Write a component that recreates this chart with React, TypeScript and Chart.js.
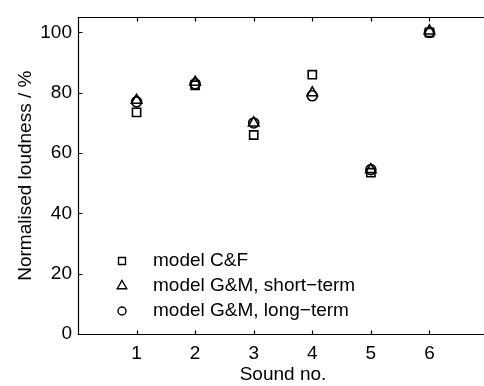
import React, { useEffect, useRef } from "react";
import { Chart, registerables } from "chart.js";

Chart.register(...registerables);

const sounds = [1, 2, 3, 4, 5, 6];
const modelCF = [73.5, 82.5, 66, 86, 53.5, 100];
const modelGMShort = [77.5, 83.5, 70, 80, 54.5, 100.5];
const modelGMLong = [77, 83, 70, 79, 54.5, 100];
const xTickValues = [1, 2, 3, 4, 5, 6, 7];
const yTickValues = [0, 20, 40, 60, 80, 100];
const seriesLabels = ["model C&F", "model G&M, short\u2212term", "model G&M, long\u2212term"];

const FONT = "'Liberation Sans', Arial, Helvetica, sans-serif";

const axesPlugin = {
  id: "axesBox",
  afterDraw(chart: any) {
    const { ctx, chartArea } = chart;
    const { left, right, top, bottom } = chartArea;
    const xs = chart.scales.x;
    const ys = chart.scales.y;
    ctx.save();
    ctx.strokeStyle = "#000";
    ctx.lineWidth = 1.2;
    const L = Math.round(left) + 0.5;
    const B = Math.round(bottom) + 0.5;
    const T = Math.round(top) + 0.5;
    const R = Math.round(right) + 0.5;
    ctx.beginPath();
    ctx.moveTo(R + 10, T);
    ctx.lineTo(L, T);
    ctx.lineTo(L, B);
    ctx.lineTo(R + 10, B);
    ctx.stroke();
    const tl = 4;
    ctx.beginPath();
    xTickValues.forEach((v) => {
      const px = Math.round(xs.getPixelForValue(v)) + 0.5;
      ctx.moveTo(px, B);
      ctx.lineTo(px, B - tl);
      ctx.moveTo(px, T);
      ctx.lineTo(px, T + tl);
    });
    yTickValues.forEach((v) => {
      const py = Math.round(ys.getPixelForValue(v)) + 0.5;
      ctx.moveTo(L, py);
      ctx.lineTo(L + tl, py);
    });
    ctx.stroke();

    // legend
    const styles = ["rect", "triangle", "circle"];
    ctx.font = `19px ${FONT}`;
    ctx.fillStyle = "#000";
    ctx.textBaseline = "middle";
    ctx.textAlign = "left";
    ctx.lineWidth = 1.4;
    chart.data.datasets.forEach((ds: any, i: number) => {
      const cy = bottom - 73 + i * 25;
      const cx = left + 44;
      ctx.beginPath();
      if (styles[i] === "rect") {
        ctx.rect(cx - 3.5, cy - 3.5, 7, 7);
      } else if (styles[i] === "triangle") {
        const r = 5.5;
        ctx.moveTo(cx, cy - r);
        ctx.lineTo(cx + r * 0.866, cy + r * 0.5);
        ctx.lineTo(cx - r * 0.866, cy + r * 0.5);
        ctx.closePath();
      } else {
        ctx.arc(cx, cy, 4, 0, Math.PI * 2);
      }
      ctx.stroke();
      ctx.fillText(ds.label, left + 75, cy);
    });
    ctx.restore();
  },
};

export default function App() {
  const ref = useRef<HTMLCanvasElement | null>(null);
  useEffect(() => {
    if (!ref.current) return;
    const mk = (label: string, data: number[], style: string, r: number) => ({
      label,
      data: sounds.map((s, i) => ({ x: s, y: data[i] })),
      pointStyle: style,
      pointRadius: r,
      pointBorderWidth: 1.6,
      borderColor: "#000",
      backgroundColor: "rgba(0,0,0,0)",
      pointBackgroundColor: "rgba(0,0,0,0)",
      showLine: false,
    });
    const chart = new Chart(ref.current, {
      type: "scatter",
      data: {
        datasets: [
          mk(seriesLabels[0], modelCF, "rect", 5.8),
          mk(seriesLabels[1], modelGMShort, "triangle", 6),
          mk(seriesLabels[2], modelGMLong, "circle", 5),
        ],
      },
      options: {
        animation: false,
        responsive: false,
        layout: { padding: { top: 8, right: 8, left: 0, bottom: 0 } },
        plugins: { legend: { display: false }, tooltip: { enabled: false } },
        scales: {
          x: {
            type: "linear",
            min: 0,
            max: 7,
            grid: { display: false, drawTicks: false },
            border: { display: false },
            afterBuildTicks: (s: any) => {
              s.ticks = sounds.map((v) => ({ value: v }));
            },
            afterFit: (s: any) => {
              s.height = 52;
            },
            ticks: {
              color: "#000",
              padding: 8,
              maxRotation: 0,
              font: { family: FONT, size: 19 },
            },
            title: {
              display: true,
              text: "Sound no.",
              color: "#000",
              font: { family: FONT, size: 19 },
              padding: { top: 0, bottom: 0 },
            },
          },
          y: {
            min: 0,
            max: 105,
            grid: { display: false, drawTicks: false },
            border: { display: false },
            afterBuildTicks: (s: any) => {
              s.ticks = yTickValues.map((v) => ({ value: v }));
            },
            afterFit: (s: any) => {
              s.width = 78;
            },
            ticks: {
              color: "#000",
              padding: 6,
              font: { family: FONT, size: 19 },
            },
            title: {
              display: true,
              text: "Normalised loudness / %",
              color: "#000",
              font: { family: FONT, size: 19 },
              padding: { top: 14, bottom: 0 },
            },
          },
        },
      },
      plugins: [axesPlugin],
    } as any);
    return () => chart.destroy();
  }, []);
  return (
    <div style={{ position: "fixed", left: 0, top: 0, width: 484, height: 386, overflow: "hidden", background: "#fff" }}>
      <canvas ref={ref} width={496} height={386} style={{ display: "block" }} />
    </div>
  );
}
